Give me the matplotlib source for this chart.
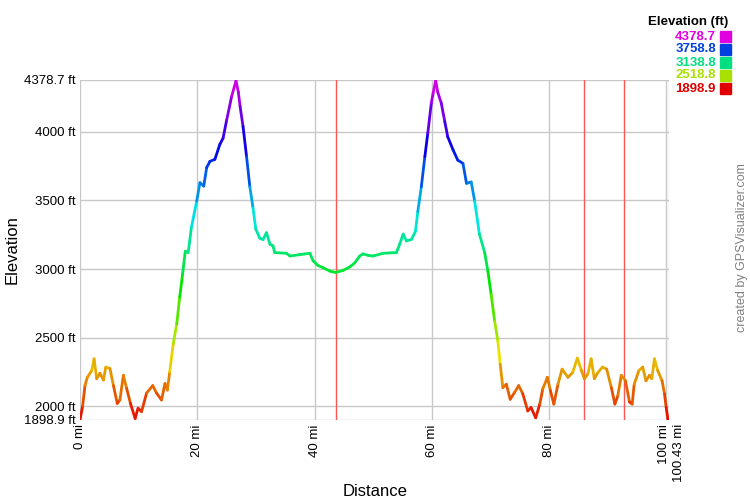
import numpy as np
import matplotlib
matplotlib.use("Agg")
import matplotlib.pyplot as plt
import matplotlib.colors as mcolors
import matplotlib.transforms as mtransforms
from matplotlib.collections import LineCollection

plt.rcParams['font.family'] = ['Liberation Sans', 'DejaVu Sans']

# distance (mi) and elevation (ft)
dist = [0.0, 0.45, 0.85, 1.25, 2.0, 2.4, 2.84, 3.4, 4.0, 4.4, 5.1, 5.7, 6.35, 6.8,
        7.4, 7.95, 8.6, 9.4, 9.9, 10.5, 11.35, 12.4, 13.05, 13.9, 14.5, 14.9,
        15.3, 15.9, 16.5, 17.0, 17.5, 17.95, 18.45, 19.0, 19.9, 20.45, 21.1,
        21.6, 22.15, 23.0, 23.85, 24.4, 25.0, 25.85, 26.6, 27.0, 27.3, 27.8,
        28.4, 28.96, 29.5, 29.98, 30.66, 31.2, 31.8, 32.4, 32.9, 33.2, 35.2,
        35.8, 37.5, 38.3, 39.2, 39.75, 40.6, 41.45, 42.6, 43.6, 44.85, 46.0,
        46.85, 47.7, 48.25, 49.1, 49.97, 51.7, 53.95, 54.5, 55.1, 55.65, 56.5,
        57.2, 57.6, 58.2, 58.8, 59.3, 59.9, 60.2, 60.65, 61.0, 61.6, 62.2,
        62.7, 63.6, 64.4, 65.3, 65.9, 66.7, 67.3, 68.1, 69.0, 69.55, 70.1,
        70.7, 71.25, 71.65, 72.1, 72.7, 73.35, 74.1, 74.8, 75.5, 76.35, 76.9,
        77.7, 78.4, 78.9, 79.7, 80.2, 80.8, 81.5, 82.2, 83.2, 84.0, 84.8,
        85.5, 86.0, 86.6, 87.15, 87.7, 88.3, 89.1, 89.8, 90.6, 91.2, 91.7,
        92.3, 93.0, 93.7, 94.15, 94.5, 95.3, 95.95, 96.5, 97.1, 97.5, 97.95,
        98.5, 99.25, 99.66, 99.95, 100.25, 100.43]
elev = [1898.9, 2000, 2150, 2210, 2260, 2345, 2200, 2240, 2190, 2285, 2275, 2150,
        2020, 2045, 2225, 2130, 2020, 1910, 1985, 1960, 2095, 2150, 2095, 2045,
        2165, 2117, 2250, 2455, 2600, 2795, 2965, 3130, 3120, 3305, 3495, 3630,
        3605, 3740, 3785, 3800, 3910, 3955, 4085, 4258, 4373, 4290, 4185, 4040,
        3820, 3600, 3445, 3290, 3225, 3215, 3265, 3180, 3170, 3120, 3115, 3095,
        3105, 3110, 3115, 3060, 3025, 3010, 2985, 2975, 2990, 3015, 3045, 3095,
        3110, 3100, 3095, 3115, 3120, 3180, 3255, 3205, 3215, 3275, 3420, 3600,
        3820, 3990, 4210, 4280, 4373, 4290, 4210, 4075, 3965, 3870, 3795, 3770,
        3625, 3635, 3495, 3255, 3120, 2985, 2815, 2620, 2475, 2305, 2135, 2160,
        2050, 2100, 2150, 2090, 1965, 1990, 1915, 2015, 2125, 2210, 2115, 2015,
        2160, 2270, 2210, 2245, 2350, 2260, 2200, 2235, 2345, 2200, 2245, 2285,
        2270, 2135, 2015, 2075, 2225, 2185, 2030, 2015, 2160, 2260, 2285, 2185,
        2225, 2200, 2345, 2260, 2185, 2090, 1990, 1905, 1898.9]

x_ticks = [0, 20, 40, 60, 80, 100, 100.43]
x_labels = ["0 mi", "20 mi", "40 mi", "60 mi", "80 mi", "100 mi", "100.43 mi"]
y_ticks = [1898.9, 2000, 2500, 3000, 3500, 4000, 4378.7]
y_labels = ["1898.9 ft", "2000 ft", "2500 ft", "3000 ft", "3500 ft", "4000 ft", "4378.7 ft"]
markers = [43.6, 86.0, 92.7]

legend_vals = ["4378.7", "3758.8", "3138.8", "2518.8", "1898.9"]
legend_cols = ["#e000e0", "#0040e0", "#00e080", "#a8e000", "#e00000"]

ymin, ymax = 1898.9, 4378.7
xmax = 100.43


def elev_color(v):
    f = (v - ymin) / (ymax - ymin)
    h = (300.0 / 360.0) * f
    return mcolors.hsv_to_rgb([h, 1.0, 0.9])


fig = plt.figure(figsize=(7.5, 5), dpi=100)
ax = fig.add_axes([80 / 750, 80 / 500, 589 / 750, 340 / 500])

ax.set_xlim(0, xmax)
ax.set_ylim(ymin, ymax)

for xv in x_ticks:
    ax.axvline(xv, color="#c8c8c8", lw=1, zorder=1)
for yv in y_ticks:
    ax.axhline(yv, color="#c8c8c8", lw=1, zorder=1)
for m in markers:
    ax.axvline(m, color="#ff5555", lw=1, zorder=2)

pts = np.column_stack([dist, elev])
segs = np.stack([pts[:-1], pts[1:]], axis=1)
mids = (np.array(elev[:-1]) + np.array(elev[1:])) / 2
lc = LineCollection(segs, colors=[elev_color(v) for v in mids], linewidths=2,
                    capstyle="round", joinstyle="round", zorder=3)
ax.add_collection(lc)

for s in ax.spines.values():
    s.set_visible(False)
ax.set_xticks(x_ticks)
ax.set_xticklabels(x_labels, rotation=90, fontsize=9.5)
ax.set_yticks(y_ticks)
ax.set_yticklabels(y_labels, fontsize=9.5)
ax.tick_params(length=0, pad=3)

# nudge the two crowded end labels apart
labs = ax.get_xticklabels()
labs[-2].set_transform(labs[-2].get_transform() +
                       mtransforms.ScaledTranslation(-2 / 100, 0, fig.dpi_scale_trans))
labs[-1].set_transform(labs[-1].get_transform() +
                       mtransforms.ScaledTranslation(10 / 100, 0, fig.dpi_scale_trans))

fig.text(12 / 750, 1 - 250 / 500, "Elevation", rotation=90, fontsize=12,
         ha="center", va="center")
fig.text(375 / 750, 1 - 491 / 500, "Distance", fontsize=12, ha="center", va="center")
fig.text(742 / 750, 1 - 248 / 500, "created by GPSVisualizer.com", rotation=90,
         fontsize=9, color="#808080", ha="center", va="center")

fig.text(728 / 750, 1 - 22 / 500, "Elevation (ft)", fontsize=9.5, fontweight="bold",
         ha="right", va="center")
for i, (lab, col) in enumerate(zip(legend_vals, legend_cols)):
    yc = 1 - (36.5 + i * 13) / 500
    fig.text(716 / 750, yc, lab, fontsize=9.5, fontweight="bold", color=col,
             ha="right", va="center")
    fig.patches.append(plt.Rectangle((720 / 750, yc - 5.5 / 500), 11 / 750, 11 / 500,
                                     transform=fig.transFigure, color=col))

fig.savefig("out.png", dpi=100)
